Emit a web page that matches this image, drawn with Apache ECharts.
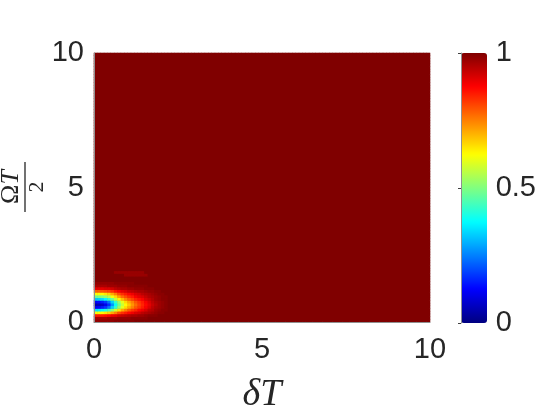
<!DOCTYPE html>
<html>
<head>
<meta charset="utf-8">
<script src="https://cdn.jsdelivr.net/npm/echarts@6/dist/echarts.min.js"></script>
<style>
  html, body { margin: 0; padding: 0; background: #fff; }
  #chart { width: 539px; height: 419px; }
</style>
</head>
<body>
<div id="chart"></div>
<script>
  // grid of cell centres, 0.1 wide, over 0..10 on both axes
  var nCells = 100
  var xCats = []
  var yCats = []
  for (var k = 0; k < nCells; k++) {
    xCats.push((k * 0.1 + 0.05).toFixed(2))
    yCats.push((k * 0.1 + 0.05).toFixed(2))
  }

  // value of the flat region (everything outside the dip)
  var fieldValue = 1

  // dip near the origin: rows = ΩT/2 (0.05, 0.15, ...), cols = δT (0.05, 0.15, ...)
  var dipRows = [
    [0.98,0.98,0.98,0.98,0.98,0.98,0.99,0.99,0.99,0.99,0.99,0.99,1,1,1,1,1,1,1,1,1,1],
    [0.96,0.96,0.96,0.96,0.97,0.97,0.97,0.98,0.98,0.98,0.98,0.99,0.99,0.99,0.99,0.99,1,1,1,1,1,1],
    [0.85,0.85,0.85,0.86,0.87,0.89,0.90,0.92,0.93,0.94,0.95,0.96,0.96,0.97,0.97,0.98,0.99,0.99,0.99,1,1,1],
    [0.62,0.62,0.63,0.65,0.67,0.71,0.75,0.80,0.83,0.85,0.87,0.89,0.91,0.92,0.94,0.95,0.96,0.97,0.98,0.99,0.99,1],
    [0.35,0.36,0.37,0.40,0.44,0.51,0.58,0.65,0.71,0.75,0.79,0.82,0.84,0.87,0.89,0.91,0.94,0.95,0.97,0.98,0.99,0.99],
    [0.12,0.13,0.15,0.18,0.24,0.33,0.43,0.52,0.60,0.66,0.71,0.75,0.79,0.82,0.85,0.88,0.91,0.94,0.96,0.97,0.98,0.99],
    [0.04,0.05,0.07,0.11,0.17,0.27,0.38,0.48,0.57,0.63,0.68,0.73,0.77,0.81,0.84,0.87,0.90,0.93,0.95,0.97,0.98,0.99],
    [0.12,0.13,0.15,0.18,0.24,0.33,0.43,0.52,0.60,0.66,0.71,0.75,0.79,0.82,0.85,0.88,0.91,0.94,0.96,0.97,0.98,0.99],
    [0.32,0.33,0.34,0.37,0.42,0.48,0.56,0.63,0.69,0.74,0.78,0.81,0.84,0.86,0.88,0.91,0.93,0.95,0.97,0.98,0.99,0.99],
    [0.48,0.49,0.50,0.52,0.55,0.61,0.66,0.72,0.77,0.80,0.83,0.85,0.88,0.90,0.91,0.93,0.95,0.96,0.97,0.98,0.99,0.99],
    [0.62,0.62,0.63,0.65,0.67,0.71,0.75,0.80,0.83,0.85,0.87,0.89,0.91,0.92,0.94,0.95,0.96,0.97,0.98,0.99,0.99,1],
    [0.78,0.78,0.79,0.80,0.81,0.83,0.86,0.88,0.90,0.91,0.93,0.94,0.95,0.96,0.96,0.97,0.98,0.98,0.99,0.99,1,1],
    [0.90,0.90,0.90,0.91,0.91,0.92,0.94,0.95,0.96,0.96,0.97,0.97,0.98,0.98,0.98,0.99,0.99,0.99,1,1,1,1],
    [0.96,0.96,0.96,0.96,0.97,0.97,0.97,0.98,0.98,0.98,0.99,0.99,0.99,0.99,0.99,0.99,1,1,1,1,1,1],
    [0.98,0.98,0.98,0.98,0.98,0.98,0.99,0.99,0.99,0.99,0.99,0.99,1,1,1,1,1,1,1,1,1,1],
    [1,1,1,1,1,1,1,1,1,1,1,1,1,1,1,1,1,1,1,1,1,1],
    [1,1,1,1,1,1,1,1,1,1,1,1,1,1,1,1,1,1,1,1,1,1],
    [1,1,1,1,1,1,1,1,1,0.975,0.975,0.975,0.975,0.975,0.975,0.975,1,1,1,1,1,1],
    [1,1,1,1,1,1,0.975,0.975,0.975,0.975,0.975,0.975,0.975,0.975,0.975,1,1,1,1,1,1,1]
  ]

  var axisTicks = [0, 5, 10]
  var barTicks = [0, 0.5, 1]

  // jet
  var jet = ['#000080', '#0000ff', '#0080ff', '#00ffff', '#80ff80', '#ffff00', '#ff8000', '#ff0000', '#800000']

  var cells = []
  for (var j = 0; j < nCells; j++) {
    for (var i = 0; i < nCells; i++) {
      var v = fieldValue
      if (j < dipRows.length && i < dipRows[j].length) v = dipRows[j][i]
      cells.push([i, j, v])
    }
  }

  var txt = '#262626'
  var tickFont = { color: txt, fontSize: 29, fontFamily: 'Liberation Sans, Arial, sans-serif' }

  var myChart = echarts.init(document.getElementById('chart'), null, { renderer: 'canvas' })
  myChart.setOption({
    animation: false,
    grid: [
      { left: 94, top: 53, width: 336, height: 270, show: true, backgroundColor: '#800000', borderColor: '#e0e0e0', borderWidth: 1 },
      { left: 461, top: 53, width: 26, height: 270, show: false }
    ],
    xAxis: [
      { type: 'category', gridIndex: 0, data: xCats, show: false },
      {
        type: 'value', gridIndex: 0, min: axisTicks[0], max: axisTicks[2], interval: axisTicks[1] - axisTicks[0],
        position: 'bottom', z: 5,
        axisLine: { show: true, lineStyle: { color: '#909090', width: 1 } },
        axisTick: { show: false },
        splitLine: { show: false },
        axisLabel: Object.assign({ margin: 13 }, tickFont),
        name: 'δT', nameLocation: 'middle', nameGap: 54,
        nameTextStyle: { color: txt, fontSize: 38, fontStyle: 'italic', fontFamily: 'Liberation Serif, serif' }
      },
      { type: 'value', gridIndex: 1, show: false, min: 0, max: 1 }
    ],
    yAxis: [
      { type: 'category', gridIndex: 0, data: yCats, show: false },
      {
        type: 'value', gridIndex: 0, min: axisTicks[0], max: axisTicks[2], interval: axisTicks[1] - axisTicks[0],
        position: 'left', z: 5,
        axisLine: { show: true, lineStyle: { color: '#909090', width: 1 } },
        axisTick: { show: false },
        splitLine: { show: false },
        axisLabel: Object.assign({ margin: 10 }, tickFont)
      },
      {
        type: 'value', gridIndex: 1, min: barTicks[0], max: barTicks[2], interval: barTicks[1] - barTicks[0],
        position: 'right', z: 10,
        axisLine: { show: true, lineStyle: { color: '#909090', width: 1 } },
        axisTick: { show: true, inside: true, length: 3, lineStyle: { color: '#404040' } },
        splitLine: { show: false },
        axisLabel: Object.assign({ margin: 10 }, tickFont)
      }
    ],
    visualMap: {
      type: 'continuous', min: 0, max: 1, seriesIndex: 0,
      calculable: false, realtime: false, hoverLink: false,
      left: 461, top: 53, itemWidth: 26, itemHeight: 270, padding: 0,
      inRange: { color: jet }
    },
    graphic: [
      {
        type: 'group', position: [25, 187], rotation: Math.PI / 2,
        children: [
          {
            type: 'text', x: 0, y: -1,
            style: {
              text: '{u|Ω}{i|T}', align: 'center', verticalAlign: 'bottom',
              rich: {
                u: { fontSize: 26, fontFamily: 'Liberation Serif, serif', fill: txt },
                i: { fontSize: 26, fontStyle: 'italic', fontFamily: 'Liberation Serif, serif', fill: txt }
              }
            }
          },
          { type: 'line', shape: { x1: -25, y1: 0, x2: 25, y2: 0 }, style: { stroke: txt, lineWidth: 1.3 } },
          {
            type: 'text', x: 0, y: 1,
            style: { text: '2', align: 'center', verticalAlign: 'top', fontSize: 22, fontFamily: 'Liberation Serif, serif', fill: txt }
          }
        ]
      }
    ],
    series: [{
      type: 'heatmap', xAxisIndex: 0, yAxisIndex: 0,
      data: cells, progressive: 0,
      emphasis: { disabled: true }
    }]
  })
</script>
</body>
</html>
